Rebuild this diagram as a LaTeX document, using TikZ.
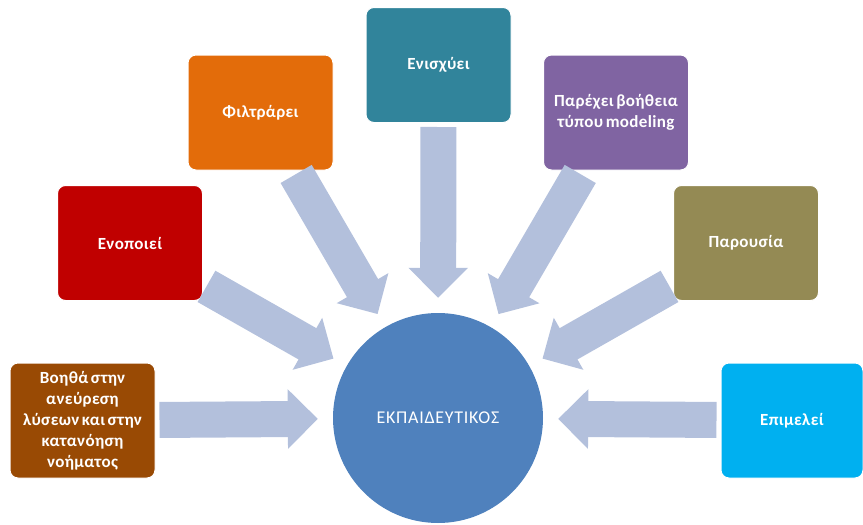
\documentclass[tikz,border=0pt]{standalone}
\usepackage{fontspec}
\setmainfont{Carlito}
\newfontfamily\boxfont[LetterSpace=2,WordSpace=0.6]{Carlito}
\newfontfamily\centrefont[LetterSpace=4]{Carlito}
\usepackage{tikz}
\usetikzlibrary{arrows.meta}

\definecolor{brownbox}{HTML}{994A04}
\definecolor{redbox}{HTML}{C00000}
\definecolor{orangebox}{HTML}{E36C0A}
\definecolor{tealbox}{HTML}{31849B}
\definecolor{purplebox}{HTML}{8064A2}
\definecolor{olivebox}{HTML}{948A54}
\definecolor{cyanbox}{HTML}{00B0F0}
\definecolor{centrefill}{HTML}{4F81BD}
\definecolor{flowblue}{HTML}{B3C0DC}

\begin{document}
\begin{tikzpicture}[x=1pt,y=-1pt,
  rolebox/.style={rectangle,rounded corners=8pt,draw=white,line width=1pt,minimum width=145pt,minimum height=115pt,
    text=white,align=center,inner sep=2pt,font=\boxfont\bfseries\fontsize{17}{21}\selectfont},
  flow/.style={flowblue,line width=36pt,-{Triangle[width=58pt,length=30pt]},shorten <=4pt,shorten >=15pt}]
                      \useasboundingbox (0,0) rectangle (863,525);
                      \node[circle,fill=centrefill,minimum size=210pt,text=white,font=\centrefont\fontsize{18}{22}\selectfont](teacher)at(438,418){ΕΚΠΑΙΔΕΥΤΙΚΟΣ};
                      \node[rolebox,fill=brownbox](helps)at(82.5,420.5){Βοηθά στην\\ανεύρεση\\λύσεων και στην\\κατανόηση\\νοήματος};
                      \node[rolebox,fill=redbox](unifies)at(130,243){Ενοποιεί};
                      \node[rolebox,fill=orangebox](filters)at(260.5,112.5){Φιλτράρει};
                      \node[rolebox,fill=tealbox](boosts)at(438.5,65){Ενισχύει};
                      \node[rolebox,fill=purplebox](models)at(616,112.5){Παρέχει βοήθεια\\τύπου modeling};
                      \node[rolebox,fill=olivebox](presence)at(746,243){Παρουσία};
                      \node[rolebox,fill=cyanbox,minimum width=142pt](curates)at(792,420.5){Επιμελεί};
                      \foreach \src in {helps,unifies,filters,boosts,models,presence,curates} \draw[flow](\src)--(teacher);
                  \end{tikzpicture}
\end{document}
